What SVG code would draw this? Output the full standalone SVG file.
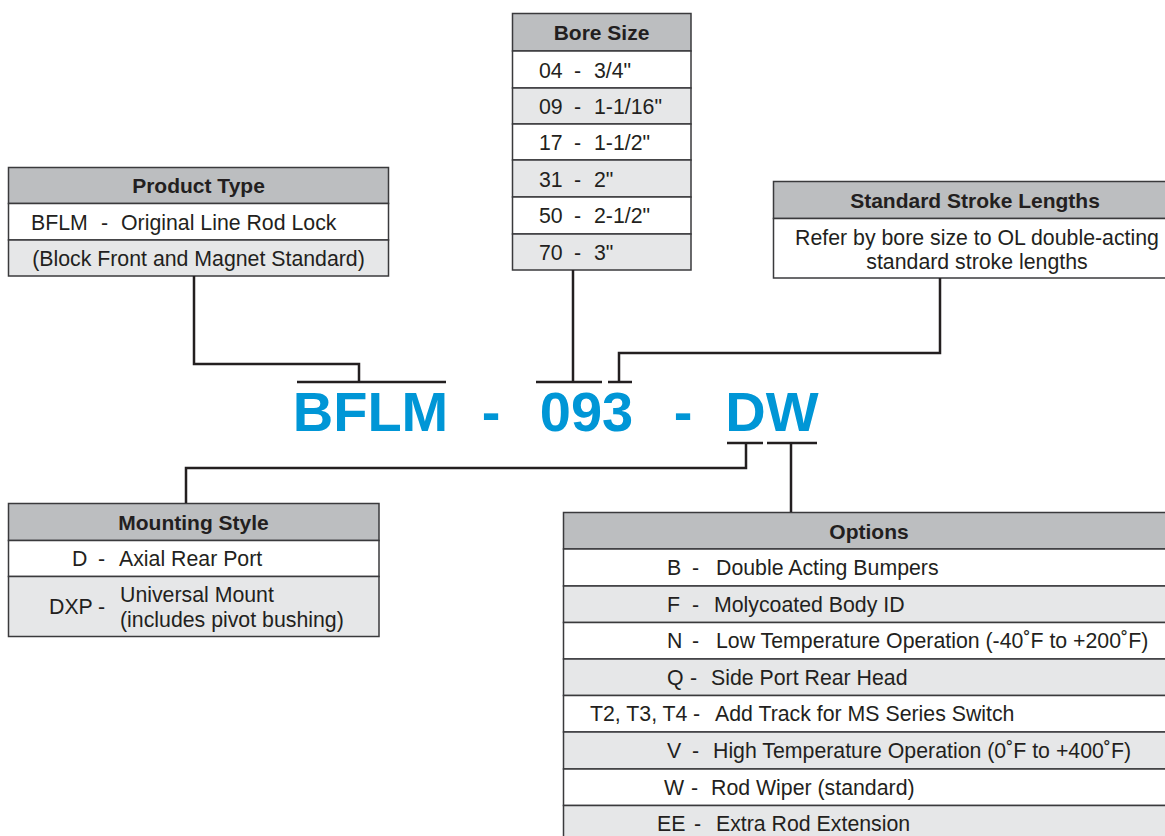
<svg xmlns="http://www.w3.org/2000/svg" width="1165" height="836" viewBox="0 0 1165 836">
<style>
.hd{fill:#bcbec0;stroke:#3a3a3c;stroke-width:1.5}
.wr{fill:#ffffff;stroke:#3a3a3c;stroke-width:1.5}
.gr{fill:#e6e7e8;stroke:#3a3a3c;stroke-width:1.5}
.ht{font-family:"Liberation Sans",Arial,sans-serif;font-weight:bold;font-size:21px;fill:#231f20;text-anchor:middle}
.t{font-family:"Liberation Sans",Arial,sans-serif;font-size:21.3px;fill:#231f20}
.c{font-family:"Liberation Sans",Arial,sans-serif;font-size:21.3px;fill:#231f20;text-anchor:middle}
.code{font-family:"Liberation Sans",Arial,sans-serif;font-weight:bold;font-size:56px;fill:#0096d6;text-anchor:middle}
.ln{fill:none;stroke:#231f20;stroke-width:2.5}
</style>
<rect width="1165" height="836" fill="#ffffff"/>

<g id="product-type">
<rect class="hd" x="8.5" y="167.5" width="380" height="36"/>
<rect class="wr" x="8.5" y="203.5" width="380" height="36.5"/>
<rect class="gr" x="8.5" y="240" width="380" height="36"/>
<text class="ht" x="198.5" y="193">Product Type</text>
<text class="t" y="229.5"><tspan x="31">BFLM</tspan><tspan x="101">-</tspan><tspan x="121">Original Line Rod Lock</tspan></text>
<text class="c" x="198.5" y="266">(Block Front and Magnet Standard)</text>
</g>

<g id="bore-size">
<rect class="hd" x="512.5" y="13.5" width="178.5" height="37.5"/>
<rect class="wr" x="512.5" y="51" width="178.5" height="37"/>
<rect class="gr" x="512.5" y="88" width="178.5" height="36"/>
<rect class="wr" x="512.5" y="124" width="178.5" height="36"/>
<rect class="gr" x="512.5" y="160" width="178.5" height="37"/>
<rect class="wr" x="512.5" y="197" width="178.5" height="37"/>
<rect class="gr" x="512.5" y="234" width="178.5" height="36"/>
<text class="ht" x="601.5" y="40">Bore Size</text>
<text class="t" y="77.5"><tspan x="539">04</tspan><tspan x="574">-</tspan><tspan x="594">3/4"</tspan></text>
<text class="t" y="114"><tspan x="539">09</tspan><tspan x="574">-</tspan><tspan x="594">1-1/16"</tspan></text>
<text class="t" y="150"><tspan x="539">17</tspan><tspan x="574">-</tspan><tspan x="594">1-1/2"</tspan></text>
<text class="t" y="186.5"><tspan x="539">31</tspan><tspan x="574">-</tspan><tspan x="594">2"</tspan></text>
<text class="t" y="223"><tspan x="539">50</tspan><tspan x="574">-</tspan><tspan x="594">2-1/2"</tspan></text>
<text class="t" y="259.5"><tspan x="539">70</tspan><tspan x="574">-</tspan><tspan x="594">3"</tspan></text>
</g>

<g id="stroke-lengths">
<rect class="hd" x="773.5" y="181.5" width="400" height="37"/>
<rect class="wr" x="773.5" y="218.5" width="400" height="59.5"/>
<text class="ht" x="975" y="207.5">Standard Stroke Lengths</text>
<text class="c" x="977" y="244.5">Refer by bore size to OL double-acting</text>
<text class="c" x="977" y="268.5">standard stroke lengths</text>
</g>

<g id="model-code">
<text class="code" x="370.5" y="431">BFLM</text>
<text class="code" x="491" y="431">-</text>
<text class="code" x="586.5" y="431">093</text>
<text class="code" x="683" y="431">-</text>
<text class="code" x="772" y="431">DW</text>
</g>

<g id="mounting-style">
<rect class="hd" x="8.5" y="503.5" width="370.5" height="37"/>
<rect class="wr" x="8.5" y="540.5" width="370.5" height="36"/>
<rect class="gr" x="8.5" y="576.5" width="370.5" height="60"/>
<text class="ht" x="193.5" y="529.5">Mounting Style</text>
<text class="t" y="566"><tspan x="72">D</tspan><tspan x="98">-</tspan><tspan x="119">Axial Rear Port</tspan></text>
<text class="t" y="614"><tspan x="49">DXP</tspan><tspan x="98">-</tspan></text>
<text class="t" x="120" y="602">Universal Mount</text>
<text class="t" x="120" y="626.5">(includes pivot bushing)</text>
</g>

<g id="options">
<rect class="hd" x="563.5" y="512.5" width="610" height="36.5"/>
<rect class="wr" x="563.5" y="549" width="610" height="37"/>
<rect class="gr" x="563.5" y="586" width="610" height="36.5"/>
<rect class="wr" x="563.5" y="622.5" width="610" height="36.5"/>
<rect class="gr" x="563.5" y="659" width="610" height="36.5"/>
<rect class="wr" x="563.5" y="695.5" width="610" height="36.5"/>
<rect class="gr" x="563.5" y="732" width="610" height="37"/>
<rect class="wr" x="563.5" y="769" width="610" height="36.5"/>
<rect class="gr" x="563.5" y="805.5" width="610" height="40"/>
<text class="ht" x="869" y="538.5">Options</text>
<text class="t" y="575"><tspan x="667">B</tspan><tspan x="692">-</tspan><tspan x="716">Double Acting Bumpers</tspan></text>
<text class="t" y="611.5"><tspan x="667">F</tspan><tspan x="692">-</tspan><tspan x="714">Molycoated Body ID</tspan></text>
<text class="t" y="648"><tspan x="667">N</tspan><tspan x="692">-</tspan><tspan x="716">Low Temperature Operation (-40˚F to +200˚F)</tspan></text>
<text class="t" y="684.5"><tspan x="667">Q</tspan><tspan x="690">-</tspan><tspan x="711">Side Port Rear Head</tspan></text>
<text class="t" y="721"><tspan x="590">T2, T3, T4</tspan><tspan x="693">-</tspan><tspan x="715">Add Track for MS Series Switch</tspan></text>
<text class="t" y="757.5"><tspan x="667">V</tspan><tspan x="692">-</tspan><tspan x="713">High Temperature Operation (0˚F to +400˚F)</tspan></text>
<text class="t" y="794.5"><tspan x="664">W</tspan><tspan x="691">-</tspan><tspan x="711">Rod Wiper (standard)</tspan></text>
<text class="t" y="831"><tspan x="657">EE</tspan><tspan x="694">-</tspan><tspan x="716">Extra Rod Extension</tspan></text>
</g>

<g id="connectors">
<path class="ln" d="M194,276 V364 H359 V382"/>
<path class="ln" d="M297,382 H446"/>
<path class="ln" d="M573,270 V382"/>
<path class="ln" d="M536,382 H602"/>
<path class="ln" d="M940,278 V353 H619 V382"/>
<path class="ln" d="M608,382 H632"/>
<path class="ln" d="M727,443 H763"/>
<path class="ln" d="M746,443 V468 H186 V503"/>
<path class="ln" d="M767,443 H817"/>
<path class="ln" d="M791,443 V512"/>
</g>
</svg>
